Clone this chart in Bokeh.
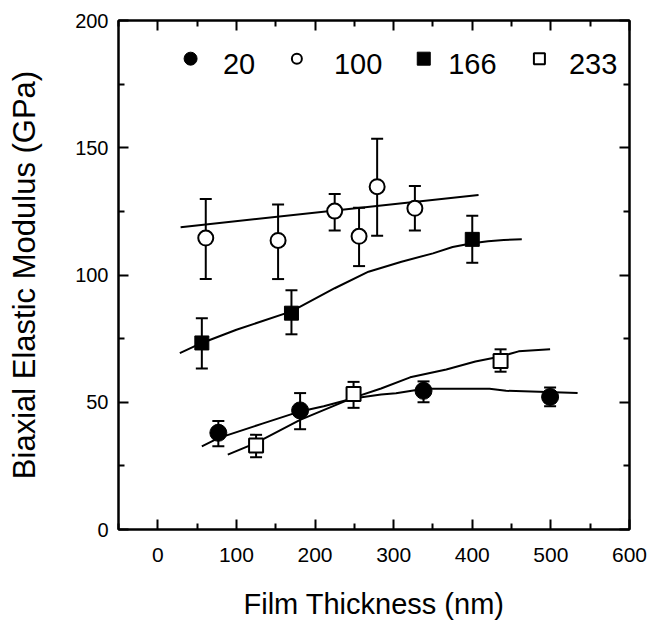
from bokeh.plotting import figure
from bokeh.models import (ColumnDataSource, Whisker, TeeHead, FixedTicker,
                          LinearAxis, Range1d, CustomJSTickFormatter)
from bokeh.core.properties import value
from bokeh.embed import file_html
from bokeh.resources import INLINE

# ---------------- data ----------------
x_ticks = [0, 100, 200, 300, 400, 500, 600]
x_minor = [-50, 50, 150, 250, 350, 450, 550]
y_ticks = [0, 50, 100, 150, 200]
y_minor = [25, 75, 125, 175]

# series "20" (filled circles)
x20 = [77, 181, 338, 499]
y20 = [38.0, 46.8, 54.5, 52.1]
up20 = [42.6, 53.6, 58.2, 55.8]
lo20 = [32.7, 39.4, 50.0, 48.4]
fit20_x = [56, 77, 133, 181, 211, 248, 284, 303, 339, 422, 443, 534]
fit20_y = [32.7, 35.9, 41.6, 46.4, 48.4, 51.5, 53.0, 53.5, 55.3, 55.3, 54.5, 53.6]

# series "100" (open circles)
x100 = [61, 153, 225, 256, 279, 327]
y100 = [114.5, 113.6, 125.1, 115.2, 134.7, 126.2]
up100 = [129.9, 127.7, 131.8, 126.4, 153.5, 135.0]
lo100 = [98.4, 98.4, 117.5, 103.5, 115.4, 117.5]
fit100_x = [29, 408]
fit100_y = [118.8, 131.4]

# series "166" (filled squares)
x166 = [56, 170, 400]
y166 = [73.3, 85.0, 114.0]
up166 = [83.0, 94.0, 123.3]
lo166 = [63.3, 76.7, 104.8]
fit166_x = [28, 56, 100, 170, 225, 268, 310, 350, 375, 400, 420, 440, 463]
fit166_y = [69.3, 73.3, 78.5, 85.7, 94.8, 101.3, 105.2, 108.5, 111.0, 112.5, 113.3, 113.8, 114.0]

# series "233" (open squares)
x233 = [125, 249, 436]
y233 = [33.0, 53.2, 66.2]
up233 = [37.2, 58.0, 70.8]
lo233 = [28.4, 47.8, 62.0]
fit233_x = [89, 125, 181, 249, 284, 321, 367, 404, 436, 459, 499]
fit233_y = [29.4, 34.0, 43.1, 51.8, 55.4, 59.8, 62.9, 66.0, 68.0, 70.0, 70.8]

legend_labels = ["20", "100", "166", "233"]
legend_marker_x = [41.7, 176.9, 338.3, 485.4]
legend_text_x = [82.9, 224, 369.4, 523]
legend_marker_y = 185.0
legend_text_y = 183.0

FONT = "Liberation Sans"

p = figure(width=647, height=624, output_backend="svg", toolbar_location=None,
           x_range=Range1d(-50, 600), y_range=Range1d(0, 200),
           min_border_left=118, min_border_right=18, min_border_top=20,
           min_border_bottom=95)
p.background_fill_color = "white"
p.border_fill_color = "white"
p.outline_line_color = "black"
p.outline_line_width = 2
p.xgrid.visible = False
p.ygrid.visible = False

def style_axis(ax, ticks, minor, show_labels, size="20px"):
    ax.ticker = FixedTicker(ticks=ticks, minor_ticks=minor)
    ax.axis_line_color = "black"
    ax.axis_line_width = 2
    ax.major_tick_in = 10
    ax.major_tick_out = 0
    ax.minor_tick_in = 6
    ax.minor_tick_out = 0
    ax.major_tick_line_width = 2
    ax.minor_tick_line_width = 2
    ax.major_tick_line_color = "black"
    ax.minor_tick_line_color = "black"
    ax.major_label_text_font = FONT
    ax.major_label_text_color = "black"
    ax.major_label_text_font_size = size
    if not show_labels:
        ax.formatter = CustomJSTickFormatter(code="return '';")
        ax.major_label_standoff = 0

xa = p.xaxis[0]
style_axis(xa, x_ticks, x_minor, True, "21px")
xa.major_label_standoff = 18
xa.axis_label = "Film Thickness (nm)"
xa.axis_label_text_font = FONT
xa.axis_label_text_font_size = "29px"
xa.axis_label_text_font_style = "normal"
xa.axis_label_text_color = "black"
xa.axis_label_standoff = 23

ya = p.yaxis[0]
style_axis(ya, y_ticks, y_minor, True, "20px")
ya.major_label_standoff = 10
ya.axis_label = "Biaxial Elastic Modulus (GPa)"
ya.axis_label_text_font = FONT
ya.axis_label_text_font_size = "31px"
ya.axis_label_text_font_style = "normal"
ya.axis_label_text_color = "black"
ya.axis_label_standoff = 30

top = LinearAxis()
style_axis(top, x_ticks, x_minor, False)
p.add_layout(top, "above")
right = LinearAxis()
style_axis(right, y_ticks, y_minor, False)
p.add_layout(right, "right")

# fit lines
for fx, fy in [(fit20_x, fit20_y), (fit100_x, fit100_y),
               (fit166_x, fit166_y), (fit233_x, fit233_y)]:
    p.line(fx, fy, line_color="black", line_width=2)

# error bars
for xs, us, ls in [(x20, up20, lo20), (x100, up100, lo100),
                   (x166, up166, lo166), (x233, up233, lo233)]:
    src = ColumnDataSource(dict(base=xs, upper=us, lower=ls))
    w = Whisker(source=src, base="base", upper="upper", lower="lower",
                line_width=2, line_color="black", level="underlay",
                upper_head=TeeHead(size=12, line_width=2, line_color="black"),
                lower_head=TeeHead(size=12, line_width=2, line_color="black"))
    p.add_layout(w)

# markers
p.scatter(x20, y20, marker="circle", size=17, fill_color="black", line_color="black")
p.scatter(x100, y100, marker="circle", size=15, fill_color="white", line_color="black", line_width=2)
p.scatter(x166, y166, marker="square", size=14, fill_color="black", line_color="black")
p.scatter(x233, y233, marker="square", size=14, fill_color="white", line_color="black", line_width=2)

# legend (manual)
lm = ["circle", "circle", "square", "square"]
lf = ["black", "white", "black", "white"]
ls_ = [13, 10, 13, 11]
for mx, mk, fc, sz in zip(legend_marker_x, lm, lf, ls_):
    p.scatter([mx], [legend_marker_y], marker=mk, size=sz, fill_color=fc,
              line_color="black", line_width=2 if fc == "white" else 1)
p.text(x=legend_text_x, y=[legend_text_y] * 4, text=legend_labels,
       text_font=value(FONT), text_font_size="29px", text_align="left",
       text_baseline="middle", text_color="black")

open("out.html", "w").write(file_html(p, INLINE))
